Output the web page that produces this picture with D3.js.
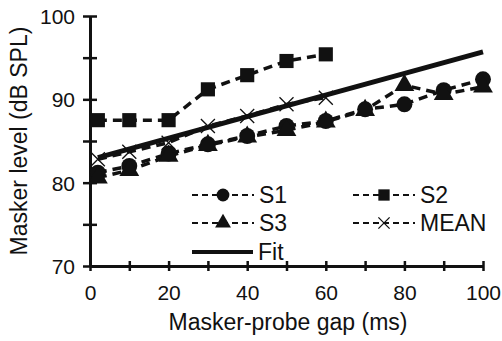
<!DOCTYPE html>
<html>
<head>
<meta charset="utf-8">
<script src="https://cdn.jsdelivr.net/npm/d3@7"></script>
<style>
  body { margin: 0; background: #fff; }
  svg text { font-family: "Liberation Sans", Arial, sans-serif; fill: #111; }
</style>
</head>
<body>
<div id="chart"></div>
<script>
// data
const gaps = [2, 10, 20, 30, 40, 50, 60, 70, 80, 90, 100];
const s1 = [81.2, 82.0, 83.5, 84.6, 85.6, 86.8, 87.4, 88.8, 89.4, 91.1, 92.4];
const s2 = [87.5, 87.5, 87.5, 91.2, 92.9, 94.6, 95.4];
const s3 = [80.6, 81.5, 83.2, 84.5, 85.5, 86.3, 87.3, 88.7, 91.7, 90.6, 91.5];
const meanVals = [82.8, 83.7, 84.8, 86.8, 88.0, 89.4, 90.2];
const fitX = [2, 100];
const fitY = [83.0, 95.7];
const xTicks = [0, 20, 40, 60, 80, 100];
const yTicks = [70, 80, 90, 100];

const W = 502, H = 341;
const margin = {left: 90, right: 19, top: 16, bottom: 75};
const width = W - margin.left - margin.right;
const height = H - margin.top - margin.bottom;

const svg = d3.select("#chart").append("svg")
    .attr("width", W)
    .attr("height", H);
const g = svg.append("g")
    .attr("transform", "translate(" + margin.left + "," + margin.top + ")");

const x = d3.scaleLinear().domain([0, 100]).range([0, width]);
const y = d3.scaleLinear().domain([70, 100]).range([height, 0]);

// axes (ticks cross the axis line)
function styleAxis(sel) {
    sel.select(".domain").attr("stroke", "#111").attr("stroke-width", 3);
    sel.selectAll(".tick line").attr("stroke", "#111").attr("stroke-width", 2.5);
    sel.selectAll(".tick text").style("font-size", "21px");
}

const xAxis = g.append("g")
    .attr("transform", "translate(0," + height + ")")
    .call(d3.axisBottom(x).tickValues(d3.range(0, 101, 10)).tickSize(0).tickSizeOuter(0).tickFormat(""));
xAxis.selectAll(".tick line").attr("y1", -5).attr("y2", 5);
xAxis.selectAll(".tick")
    .filter(d => xTicks.includes(d))
    .append("text")
    .attr("y", 34)
    .attr("text-anchor", "middle")
    .text(d => d);
styleAxis(xAxis);

const yAxis = g.append("g")
    .call(d3.axisLeft(y).tickValues(d3.range(70, 101, 5)).tickSize(0).tickSizeOuter(0).tickFormat(""));
yAxis.selectAll(".tick line").attr("x1", -7).attr("x2", 7);
yAxis.selectAll(".tick")
    .filter(d => yTicks.includes(d))
    .append("text")
    .attr("x", -15)
    .attr("dy", "0.36em")
    .attr("text-anchor", "end")
    .text(d => d);
styleAxis(yAxis);

// axis titles
svg.append("text")
    .attr("x", 288)
    .attr("y", 330)
    .attr("text-anchor", "middle")
    .style("font-size", "23px")
    .text("Masker-probe gap (ms)");
svg.append("text")
    .attr("transform", "translate(27," + (margin.top + height / 2) + ") rotate(-90)")
    .attr("text-anchor", "middle")
    .style("font-size", "23px")
    .text("Masker level (dB SPL)");

const line = d3.line().x(d => x(d[0])).y(d => y(d[1]));
const dash = "9,6";

const series = [
    {name: "S1", vals: s1, shape: d3.symbolCircle, size: 200},
    {name: "S3", vals: s3, shape: d3.symbolTriangle, size: 170},
    {name: "S2", vals: s2, shape: d3.symbolSquare, size: 200},
    {name: "MEAN", vals: meanVals, shape: "x", size: 14}
];

// fit line
g.append("path")
    .attr("d", line(fitX.map((v, i) => [v, fitY[i]])))
    .attr("fill", "none")
    .attr("stroke", "#111")
    .attr("stroke-width", 5);

function drawMarker(sel, s, px, py, scale) {
    if (s.shape === "x") {
        const r = s.size / 2 * scale;
        sel.append("path")
            .attr("d", `M${px - r},${py - r}L${px + r},${py + r}M${px - r},${py + r}L${px + r},${py - r}`)
            .attr("stroke", "#111")
            .attr("stroke-width", 1.3);
    } else {
        sel.append("path")
            .attr("transform", "translate(" + px + "," + py + ")")
            .attr("d", d3.symbol().type(s.shape).size(s.size * scale * scale)())
            .attr("fill", "#111");
    }
}

series.forEach(s => {
    const pts = s.vals.map((v, i) => [gaps[i], v]);
    g.append("path")
        .attr("d", line(pts))
        .attr("fill", "none")
        .attr("stroke", "#111")
        .attr("stroke-width", 3.5)
        .attr("stroke-dasharray", dash);
    pts.forEach(p => drawMarker(g, s, x(p[0]), y(p[1]), 1));
});

// legend
const legendItems = [
    {s: series[0], lx: 192, ly: 195},
    {s: series[2], lx: 353, ly: 195},
    {s: series[1], lx: 192, ly: 223},
    {s: series[3], lx: 353, ly: 223}
];
legendItems.forEach(it => {
    svg.append("line")
        .attr("x1", it.lx).attr("x2", it.lx + 62)
        .attr("y1", it.ly).attr("y2", it.ly)
        .attr("stroke", "#111")
        .attr("stroke-width", 2.2)
        .attr("stroke-dasharray", "6,4");
    drawMarker(svg, it.s, it.lx + 31, it.ly, 0.8);
    svg.append("text")
        .attr("x", it.lx + 67)
        .attr("y", it.ly)
        .attr("dy", "0.36em")
        .style("font-size", "23px")
        .text(it.s.name);
});
svg.append("line")
    .attr("x1", 192).attr("x2", 253)
    .attr("y1", 252).attr("y2", 252)
    .attr("stroke", "#111")
    .attr("stroke-width", 4);
svg.append("text")
    .attr("x", 258)
    .attr("y", 252)
    .attr("dy", "0.36em")
    .style("font-size", "23px")
    .text("Fit");
</script>
</body>
</html>
